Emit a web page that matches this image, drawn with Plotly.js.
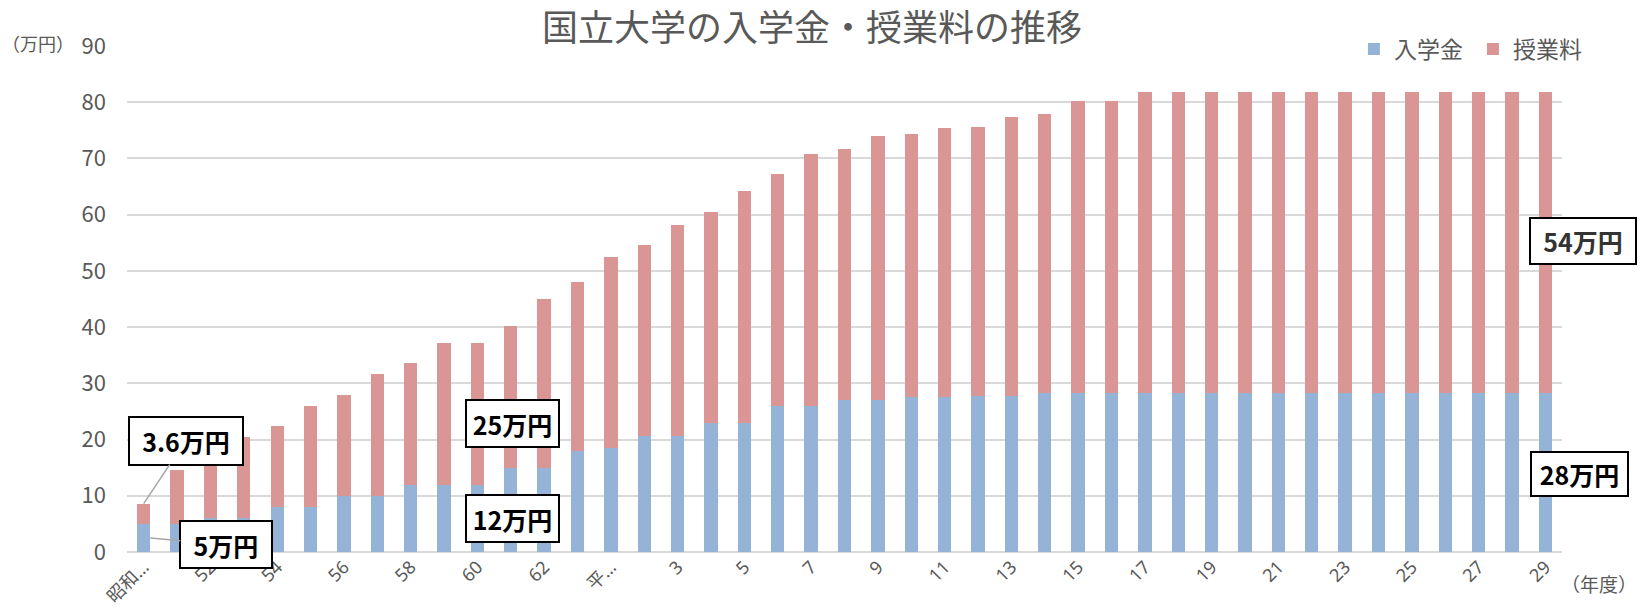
<!DOCTYPE html>
<html>
<head>
<meta charset="utf-8">
<script src="https://cdn.plot.ly/plotly-3.0.1.min.js"></script>
<style>html,body{margin:0;padding:0;background:#fff;}#chart{width:1641px;height:613px;}</style>
</head>
<body>
<div id="chart"></div>
<script>
// 年度（昭和50年度〜平成29年度）
const categories = ["昭和50","51","52","53","54","55","56","57","58","59","60","61","62","63",
  "平成元","2","3","4","5","6","7","8","9","10","11","12","13","14","15","16","17","18","19",
  "20","21","22","23","24","25","26","27","28","29"];
// 入学金（万円）
const entranceFee = [5,5,6,6,8,8,10,10,12,12,12,15,15,18,
  18.54,20.6,20.6,23,23,26,26,27,27,27.5,27.5,27.7,27.7,28.2,28.2,28.2,28.2,28.2,28.2,
  28.2,28.2,28.2,28.2,28.2,28.2,28.2,28.2,28.2,28.2];
// 授業料（万円）
const tuition = [3.6,9.6,9.6,14.4,14.4,18,18,21.6,21.6,25.2,25.2,25.2,30,30,
  33.96,33.96,37.56,37.56,41.16,41.16,44.76,44.76,46.92,46.92,47.88,47.88,49.68,49.68,52.08,52.08,53.58,53.58,53.58,
  53.58,53.58,53.58,53.58,53.58,53.58,53.58,53.58,53.58,53.58];
// 表示される目盛りラベル（1つおき）
const tickLabels = ["昭和…","52","54","56","58","60","62","平…","3","5","7","9","11","13","15","17","19","21","23","25","27","29"];
const seriesNames = ["入学金","授業料"];
const seriesColors = ["#95B3D7","#D99694"];

const tickVals = categories.filter((c, i) => i % 2 === 0);
const FONT = '"Noto Sans CJK JP", "Noto Sans", sans-serif';
const TICKFONT = '"Noto Sans", "Noto Sans CJK JP", sans-serif';

const traces = [
  {type:'bar', name:seriesNames[0], x:categories, y:entranceFee, marker:{color:seriesColors[0], line:{width:0}}, hoverinfo:'x+y+name'},
  {type:'bar', name:seriesNames[1], x:categories, y:tuition, marker:{color:seriesColors[1], line:{width:0}}, hoverinfo:'x+y+name'}
];

function box(text, xref, x, yref, y, w, h, color, extra) {
  return Object.assign({
    text: text, x: x, y: y, xref: xref, yref: yref,
    showarrow:false, xanchor:'center', yanchor:'middle',
    font:{family:FONT, size:25, color:color || '#000', weight:'bold'},
    bgcolor:'#ffffff', bordercolor:'#000000', borderwidth:2, borderpad:0,
    width:w, height:h, align:'center', valign:'middle'
  }, extra || {});
}

const annotations = [
  // 3.6万円（昭和50年度 授業料）
  box('3.6万円', 'x', 0, 'y', entranceFee[0] + tuition[0], 112, 46, '#000',
      {showarrow:true, arrowhead:0, arrowcolor:'#A6A6A6', arrowwidth:1.5, ax:42, ay:-63, xanchor:'auto', yanchor:'auto'}),
  // 5万円（昭和50年度 入学金）
  box('5万円', 'x', 0.2, 'y', entranceFee[0] / 2, 90, 45, '#000',
      {showarrow:true, arrowhead:0, arrowcolor:'#A6A6A6', arrowwidth:1.5, ax:76, ay:7, xanchor:'auto', yanchor:'auto'}),
  box('25万円', 'x', 11.05, 'y', 22.77, 91, 45),
  box('12万円', 'x', 11.05, 'y', 5.92, 91, 45),
  box('54万円', 'paper', 1.0145, 'paper', 0.6144, 104, 44, '#333'),
  box('28万円', 'paper', 1.0125, 'paper', 0.1547, 95, 42),
  // 単位
  {text:'（万円）', xref:'paper', yref:'paper', x:-0.0618, y:1.006, showarrow:false,
   xanchor:'center', yanchor:'middle', font:{family:FONT, size:18, color:'#595959'}},
  {text:'（年度）', xref:'paper', yref:'paper', x:1.0257, y:-0.062, showarrow:false,
   xanchor:'center', yanchor:'middle', font:{family:FONT, size:19, color:'#595959'}}
];

const layout = {
  width:1641, height:613,
  margin:{l:127, r:79, t:46, b:61, pad:0},
  paper_bgcolor:'#ffffff', plot_bgcolor:'#ffffff',
  barmode:'stack', bargap:0.6,
  font:{family:FONT, color:'#595959'},
  title:{text:'国立大学の入学金・授業料の推移', font:{family:FONT, size:36, color:'#595959'},
         x:0.4948, xref:'container', xanchor:'center', y:0.953, yref:'container', yanchor:'middle'},
  xaxis:{type:'category', categoryorder:'array', categoryarray:categories,
         range:[-0.5, categories.length - 0.5], autorange:false,
         tickmode:'array', tickvals:tickVals, ticktext:tickLabels, tickangle:-45,
         tickfont:{family:TICKFONT, size:18, color:'#595959'}, showgrid:false, showline:false, zeroline:false,
         ticks:'', automargin:false, fixedrange:true},
  yaxis:{range:[0,90], autorange:false, dtick:10, tick0:0, showgrid:true, gridcolor:'#D9D9D9', gridwidth:2,
         zeroline:true, zerolinecolor:'#D9D9D9', zerolinewidth:2, showline:false, ticks:'',
         tickfont:{family:FONT, size:22, color:'#595959'}, ticklabelstandoff:20,
         automargin:false, fixedrange:true},
  showlegend:true,
  legend:{orientation:'h', xref:'paper', yref:'paper', x:0.855, xanchor:'left', y:0.994, yanchor:'middle',
          font:{family:FONT, size:23, color:'#595959'}, bgcolor:'rgba(0,0,0,0)', borderwidth:0,
          entrywidth:74, entrywidthmode:'pixels', traceorder:'normal'},
  annotations:annotations
};

Plotly.newPlot('chart', traces, layout, {displayModeBar:false, responsive:false});
</script>
</body>
</html>
